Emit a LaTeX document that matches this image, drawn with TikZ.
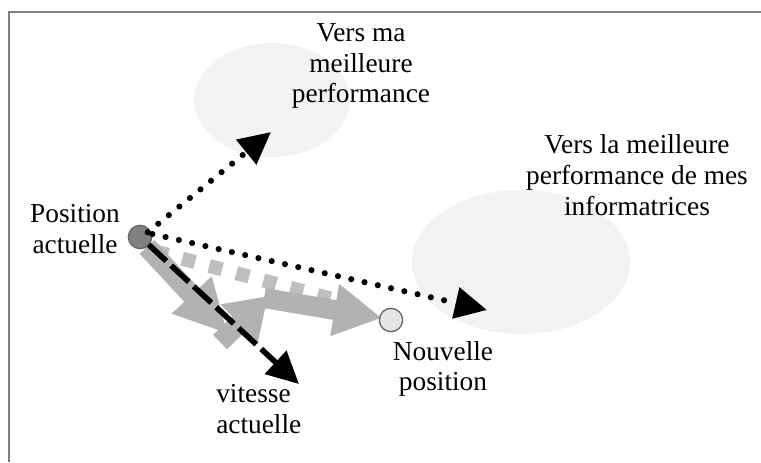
\documentclass[tikz,border=0pt]{standalone}
\usepackage{fontspec}
\setmainfont{Liberation Serif}
\usetikzlibrary{arrows.meta}
\definecolor{framegray}{gray}{0.5}
\definecolor{cloudgray}{gray}{0.95}
\definecolor{stepgray}{gray}{0.7}
\definecolor{sumgray}{gray}{0.75}
\definecolor{oldfill}{gray}{0.5}
\definecolor{newfill}{gray}{0.9}
\begin{document}
\begin{tikzpicture}[x=0.75pt,y=-0.75pt,
  label text/.style={font=\fontsize{20.5}{23}\selectfont, align=center, inner sep=0pt},
  cloud zone/.style={fill=cloudgray, draw=none},
  particle/.style={circle, minimum size=17.5pt, inner sep=0pt, line width=1pt},
  pull/.style={line width=4.6pt, dash pattern=on 0pt off 10.2pt, line cap=round,
    -{Triangle[length=24pt,width=23pt]}},
  inertia/.style={line width=4.2pt, dash pattern=on 18pt off 5pt,
    -{Triangle[length=24pt,width=23pt]}},
  move step/.style={draw=stepgray, line width=15pt},
  resultant/.style={draw=sumgray, line width=10.5pt, dash pattern=on 10pt off 11pt, dash phase=17pt}
]
\useasboundingbox (0,0) rectangle (761,462);
\fill[white] (0,0) rectangle (761,462);

% frame (top and left edges only)
\draw[framegray, line width=1.4pt] (9,462) -- (9,12) -- (761,12);

% attraction zones
\fill[cloud zone] (272,100) ellipse [x radius=78, y radius=57];
\fill[cloud zone] (521,262) ellipse [x radius=109, y radius=72];

% particles
\coordinate (cur) at (140,237);
\coordinate (new) at (391,320);

% resultant displacement (light dashed band)
\coordinate (rs) at (150,250);
\coordinate (re) at (366,308);
\draw[resultant] (rs) -- (re);

% the three component steps
\coordinate (s0) at (147,247);
\coordinate (s1) at (228,334);
\coordinate (s2) at (268,296);
\coordinate (s3) at (382,318);
\draw[move step, -{Triangle[length=40pt,width=38pt]}] (s0) -- (s1);
\draw[move step, -{Triangle[length=30pt,width=38pt]}] ([shift={(-8,8)}]s1) -- (s2);
\draw[move step, -{Triangle[length=36pt,width=37pt]}] ([shift={(-4,2)}]s2) -- (s3);

\node[particle, draw=gray!80!black, fill=oldfill] (p) at (cur) {};
\node[particle, draw=gray!80!black, fill=newfill] (q) at (new) {};

% attractions and current velocity
\coordinate (pbest) at (271,132);
\coordinate (gbest) at (487,310);
\coordinate (vel) at (299,384);
\draw[pull] (p.north east) ++(-1,4) -- (pbest);
\draw[pull] (p.east) ++(0,-3) -- (gbest);
\draw[inertia] (p.south east) ++(0,-1) -- (vel);

% labels
\node[label text] (tpbest) at (361,66) {Vers ma\\meilleure\\performance};
\node[label text] (tgbest) at (637,175) {Vers la meilleure\\performance de mes\\informatrices};
\node[label text] (tcur) at (75,229) {Position\\actuelle};
\node[label text] (tnew) at (443,369) {Nouvelle\\position};
\node[label text, align=left, anchor=west] (tvel) at (216,409) {vitesse\\actuelle};
\end{tikzpicture}
\end{document}
